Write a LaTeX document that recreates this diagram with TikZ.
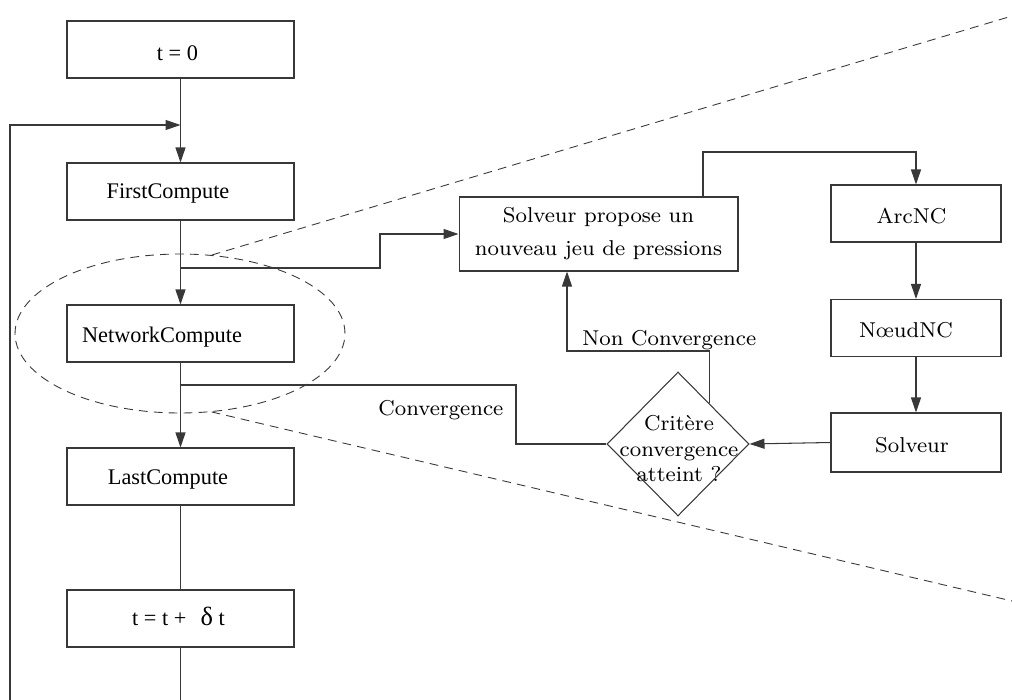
\documentclass[tikz,border=0pt]{standalone}
\usepackage{fontspec}
\usepackage{graphicx}
\usetikzlibrary{arrows.meta,shapes.geometric,calc}
\newfontfamily\timesfont{Liberation Serif}
% Computer Modern style labels: 8pt optical size, enlarged
\newcommand\cmword[1]{\scalebox{1.53}{\fontsize{8pt}{10pt}\selectfont #1}}
\newcommand\cmlines[2]{\scalebox{1.53}{\fontsize{8pt}{#1}\selectfont\begin{tabular}{@{}c@{}}#2\end{tabular}}}
\tikzset{
  line/.style={draw=black!78, line width=0.6pt},
  arr/.style={-{Triangle[length=3mm,width=2mm]}},
  box/.style={line, rectangle, inner sep=0pt},
  lbox/.style={box, minimum width=4.54cm, minimum height=1.14cm},
  rbox/.style={box, minimum width=3.4cm, minimum height=1.14cm},
  ltxt/.style={inner sep=0pt, anchor=base, font=\timesfont\fontsize{12.7pt}{15pt}\selectfont},
  rtxt/.style={inner sep=0pt, anchor=base},
  guide/.style={draw=black!78, line width=0.5pt, dash pattern=on 5pt off 3.5pt},
}
\begin{document}
\begin{tikzpicture}[x=0.02cm, y=-0.02cm]
\useasboundingbox (0,0) rectangle (1012,700);

% time loop column
\node[lbox] (t0) at (180.5,49.5) {};
\node[ltxt] (t0txt) at (177.5,60) {t = 0};
\node[lbox] (fc) at (180.5,191.5) {};
\node[ltxt] (fctxt) at (168,198) {FirstCompute};
\node[lbox] (nc) at (180.5,333.5) {};
\node[ltxt] (nctxt) at (162,342) {NetworkCompute};
\node[lbox] (lc) at (180.5,476.5) {};
\node[ltxt] (lctxt) at (168,484.5) {LastCompute};
\node[lbox] (tdt) at (180.5,618.5) {};
\node[ltxt] (tdttxt) at (178.5,625.5) {t = t +\hspace{8pt}{\fontsize{15pt}{15pt}\selectfont δ}\hspace{3.2pt}t};

% zoomed region around NetworkCompute
\node[guide, ellipse, inner sep=0pt, minimum width=6.6cm, minimum height=3.18cm] (focus) at (180,333.5) {};
\coordinate (ur) at (1012,16);
\coordinate (lr) at (1012,601);
\draw[guide] (focus.68) -- (ur);
\draw[guide] (focus.-68) -- (lr);

% non-linear solver loop
\node[box, minimum width=5.58cm, minimum height=1.48cm] (sp) at (598.5,234) {};
\node[inner sep=0pt] (sptxt) at (598.5,232.6) {\cmlines{11.94pt}{Solveur propose un\\ nouveau jeu de pressions}};
\node[rbox] (arc) at (916,213.5) {};
\node[rtxt] (arctxt) at (911.5,223) {\cmword{ArcNC}};
\node[rbox] (noeud) at (916,328) {};
\node[rtxt] (noeudtxt) at (906,337) {\cmword{NœudNC}};
\node[rbox, minimum height=1.18cm] (solv) at (916,442.5) {};
\node[rtxt] (solvtxt) at (912,452) {\cmword{Solveur}};
\node[line, diamond, inner sep=0pt, minimum width=2.84cm, minimum height=2.88cm] (crit) at (678,444) {};
\node[inner sep=0pt] (crittxt) at (679,451) {\cmlines{9.32pt}{Critère\\ convergence\\ atteint ?}};

% connectors of the time loop
\coordinate (j1) at (180.5,125);
\coordinate (lb) at (10,700);
\coordinate (bot) at (180.5,700);
\coordinate (b1) at (180.5,268);
\coordinate (b1k) at (380,268);
\coordinate (b2) at (180.5,385);
\coordinate (b2k) at (516,385);
\draw[line, arr] (t0.south) -- (fc.north);
\draw[line, arr] (lb) |- (j1);
\draw[line, arr] (fc.south) -- (nc.north);
\draw[line, arr] (nc.south) -- (lc.north);
\draw[line] (lc.south) -- (tdt.north);
\draw[line] (tdt.south) -- (bot);
\draw[line, arr] (b1) -- (b1k) |- (sp.west);

% connectors of the solver loop
\coordinate (spout) at (703,152);
\draw[line, arr] (spout |- sp.north) -- (spout) -| (arc.north);
\draw[line, arr] (arc.south) -- (arc.south |- noeud.north);
\draw[line, arr] (noeud.south) -- (noeud.south |- solv.north);
\draw[line, arr] (solv.west) -- (crit.east);
\coordinate (cn) at ($(crit.north)!0.44!(crit.east)$);
\coordinate (nck) at (567,351);
\draw[line, arr] (cn) |- (nck) -- (nck |- sp.south);
\draw[line] (crit.west) -| (b2k) -- (b2);

% branch labels
\node[rtxt, anchor=base west] (nclbl) at (582,345) {\cmword{Non Convergence}};
\node[rtxt, anchor=base west] (cvlbl) at (378,415) {\cmword{Convergence}};
\end{tikzpicture}
\end{document}
